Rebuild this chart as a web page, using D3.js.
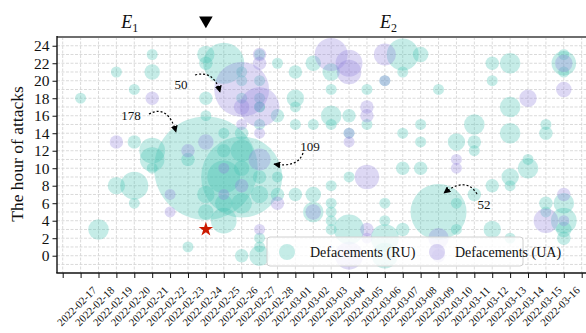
<!DOCTYPE html>
<html>
<head>
<meta charset="utf-8">
<script src="https://cdn.jsdelivr.net/npm/d3@7"></script>
<style>
  html, body { margin: 0; padding: 0; background: #fff; }
  svg { display: block; font-family: "Liberation Serif", "DejaVu Serif", serif; }
</style>
</head>
<body>
<svg id="chart" width="586" height="333"></svg>
<script>
// ---------------- data ----------------
const dayLabels = ["2022-02-17","2022-02-18","2022-02-19","2022-02-20","2022-02-21","2022-02-22","2022-02-23",
  "2022-02-24","2022-02-25","2022-02-26","2022-02-27","2022-02-28","2022-03-01","2022-03-02","2022-03-03",
  "2022-03-04","2022-03-05","2022-03-06","2022-03-07","2022-03-08","2022-03-09","2022-03-10","2022-03-11",
  "2022-03-12","2022-03-13","2022-03-14","2022-03-15","2022-03-16"];
const hourTicks = [0,2,4,6,8,10,12,14,16,18,20,22,24];

// Defacements (RU): day index (0 = 2022-02-17), hour, count
const ruDay = [0,1,2,2,3,3,3,3,4,4,4,4,4,6,6,7,7,7,7,7,7,7,8,8,8,8,8,8,9,9,9,9,9,9,9,9,9,
  10,10,10,10,10,10,10,10,10,10,11,11,11,11,12,12,12,12,12,13,13,13,13,14,14,14,14,14,14,14,14,14,
  15,15,15,15,16,16,17,17,17,17,17,18,18,18,18,18,19,19,19,19,20,20,21,21,21,22,22,22,22,
  23,23,23,23,24,24,24,24,24,24,25,25,26,26,26,26,27,27,27,27,27,27,27,10];
const ruHour = [18,3,21,8,19,13,8,6,23,21,12,11,10,11,1,23,22,18,16,10,7,5,22,14,12,9,6,4,21,20,18,14,12,10,9,6,0,
  20,18,15,9,7,2,1,0,23,17,22,16,9,7,21,18,17,15,7,22,15,7,5,21,19,16,15,8,6,5,4,3,
  16,9,3,14,19,15,6,4,2,0,20,23,21,14,10,3,23,15,13,10,19,5,13,6,3,15,13,12,7,
  22,20,8,3,22,17,14,9,8,2,11,10,15,14,6,5,23,22,21,6,4,3,2,17];
const ruCount = [2,7,2,5,2,3,13,2,2,4,11,10,2,3,2,5,3,3,2,178,5,4,28,2,3,18,5,11,2,2,2,3,8,4,109,7,3,
  2,2,2,3,5,2,2,7,2,2,2,3,2,3,3,5,2,2,3,4,2,4,7,5,2,7,2,2,2,2,2,2,
  3,2,15,2,2,2,2,2,13,11,2,17,2,2,3,3,4,2,2,3,2,52,5,2,2,7,3,2,3,
  3,2,3,5,7,7,7,5,2,2,2,7,2,3,3,2,2,10,2,7,11,4,3,2];

// Defacements (UA)
const uaDay = [2,4,5,5,6,7,8,8,9,9,9,9,10,10,10,10,10,10,11,13,14,15,15,15,15,15,16,16,16,16,16,17,17,20,20,21,21,25,26,27,27,27,27];
const uaHour = [13,18,7,5,12,13,10,7,19,17,15,8,23,22,17,14,11,3,6,5,23,22,21,14,13,0,17,16,9,3,2,23,20,2,0,11,10,18,4,22,19,7,4];
const uaCount = [3,3,2,2,3,4,2,2,50,4,2,3,3,3,26,2,8,2,3,4,18,12,10,2,2,13,3,3,10,3,2,8,2,7,3,2,2,5,10,5,4,3,2];

// event markers
const eventLabels = ["E", "E"];
const eventSubs = ["1", "2"];
const eventDays = [2.75, 17.2];
const invasionDay = 7;
const starDay = 7, starHour = 3;

// annotations (count labels of the largest bubbles)
const annotTexts = ["178", "50", "109", "52"];

// ---------------- layout ----------------
const svg = d3.select("#chart");
const plotLeft = 57, plotTop = 37, plotBottom = 273, plotRight = 586;
const day0 = Date.UTC(2022, 1, 17);
const dayMs = 86400000;
const toDate = d => new Date(day0 + d * dayMs);

const x = d3.scaleUtc()
  .domain([toDate(-1), toDate(28)])
  .range([62.7, 581.7]);
const y = d3.scaleLinear().domain([-2, 25]).range([273.2, 37]);
const r = d3.scaleSqrt().domain([0, 178]).range([0, 51.8]);

const teal = "#3fc1b0", purple = "#8f7ddc";

// clip
svg.append("defs").append("clipPath").attr("id", "plotclip")
  .append("rect").attr("x", plotLeft).attr("y", plotTop)
  .attr("width", plotRight - plotLeft).attr("height", plotBottom - plotTop);

// grid
const grid = svg.append("g");
const allDays = d3.range(-1, 30).map(toDate);
grid.selectAll("line.v").data(allDays).join("line")
  .attr("x1", d => x(d)).attr("x2", d => x(d))
  .attr("y1", plotTop).attr("y2", plotBottom)
  .attr("stroke", "#d6d6d6").attr("stroke-width", 0.9).attr("stroke-dasharray", "3,1.5");
grid.selectAll("line.h").data(d3.range(-1, 25)).join("line")
  .attr("x1", plotLeft).attr("x2", plotRight)
  .attr("y1", d => y(d)).attr("y2", d => y(d))
  .attr("stroke", "#d6d6d6").attr("stroke-width", 0.9).attr("stroke-dasharray", "3,1.5");

// bubbles
const bub = svg.append("g").attr("clip-path", "url(#plotclip)");
const ruData = ruDay.map((d, i) => ({ d, h: ruHour[i], n: ruCount[i] }));
const uaData = uaDay.map((d, i) => ({ d, h: uaHour[i], n: uaCount[i] }));
bub.selectAll("circle.ru").data(ruData).join("circle")
  .attr("cx", p => x(toDate(p.d))).attr("cy", p => y(p.h)).attr("r", p => r(p.n))
  .attr("fill", teal).attr("fill-opacity", 0.3);
bub.selectAll("circle.ua").data(uaData).join("circle")
  .attr("cx", p => x(toDate(p.d))).attr("cy", p => y(p.h)).attr("r", p => r(p.n))
  .attr("fill", purple).attr("fill-opacity", 0.3);

// red star
const star = d3.symbol().type(d3.symbolStar).size(65);
svg.append("path").attr("d", star())
  .attr("transform", `translate(${x(toDate(starDay))},${y(starHour)})`)
  .attr("fill", "#cc1a00");

// axes lines
svg.append("line").attr("x1", plotLeft).attr("x2", plotRight).attr("y1", plotTop).attr("y2", plotTop)
  .attr("stroke", "#6e6e6e").attr("stroke-width", 2);
svg.append("line").attr("x1", plotLeft).attr("x2", plotLeft).attr("y1", plotTop - 1).attr("y2", plotBottom)
  .attr("stroke", "#111").attr("stroke-width", 1.4);
svg.append("line").attr("x1", plotLeft - 0.7).attr("x2", plotRight).attr("y1", plotBottom).attr("y2", plotBottom)
  .attr("stroke", "#111").attr("stroke-width", 1.4);

// y axis
const yAxis = d3.axisLeft(y).tickValues(hourTicks).tickSize(4.5).tickPadding(3);
const gy = svg.append("g").attr("transform", `translate(${plotLeft},0)`).call(yAxis);
gy.select(".domain").remove();
gy.selectAll("line").attr("stroke", "#111").attr("stroke-width", 1);
gy.selectAll("text").attr("font-size", 15.5).attr("font-family", "Liberation Serif").attr("fill", "#111");

// x axis ticks
const xAxis = d3.axisBottom(x).tickValues(allDays.filter(d => d <= toDate(29))).tickSize(5).tickFormat("");
const gx = svg.append("g").attr("transform", `translate(0,${plotBottom})`).call(xAxis);
gx.select(".domain").remove();
gx.selectAll("line").attr("stroke", "#111").attr("stroke-width", 1);

// x labels
const parse = d3.utcParse("%Y-%m-%d");
svg.append("g").selectAll("text").data(dayLabels).join("text")
  .attr("transform", d => `translate(${x(parse(d)) - 4},306) rotate(-45)`)
  .attr("text-anchor", "middle").attr("dominant-baseline", "central")
  .attr("font-size", 10.8).attr("fill", "#111").text(d => d);

// y title
svg.append("text").attr("transform", "translate(23,154) rotate(-90)")
  .attr("text-anchor", "middle").attr("font-size", 17.5).attr("fill", "#111")
  .text("The hour of attacks");

// event labels
eventLabels.forEach((e, i) => {
  const t = svg.append("text").attr("x", x(toDate(eventDays[i]))).attr("y", 28)
    .attr("text-anchor", "middle").attr("font-size", 18).attr("fill", "#111");
  t.append("tspan").attr("font-style", "italic").text(e);
  t.append("tspan").attr("font-size", 12).attr("dy", 4).text(eventSubs[i]);
});

// invasion triangle
const tri = d3.symbol().type(d3.symbolTriangle).size(80);
svg.append("path").attr("d", tri())
  .attr("transform", `translate(${x(toDate(invasionDay))},20.5) rotate(180)`)
  .attr("fill", "#000");

// annotations
const defs = svg.select("defs");
defs.append("marker").attr("id", "ah").attr("viewBox", "0 0 10 10")
  .attr("refX", 9).attr("refY", 5).attr("markerWidth", 7).attr("markerHeight", 7)
  .attr("markerUnits", "userSpaceOnUse").attr("orient", "auto")
  .append("path").attr("d", "M0,0 L10,5 L0,10 z").attr("fill", "#000");

const annotPos = [[131, 115], [181, 84], [310, 146], [484, 204]];
const annotPaths = [
  "M149,114 Q168,104 176,132",
  "M195,75 Q214,70 220,92",
  "M303,153 Q298,168 274,164",
  "M477,194 Q466,176 444,193"
];
annotTexts.forEach((t, i) => {
  svg.append("text").attr("x", annotPos[i][0]).attr("y", annotPos[i][1])
    .attr("text-anchor", "middle").attr("dominant-baseline", "central")
    .attr("font-size", 13).attr("fill", "#111").text(t);
  svg.append("path").attr("d", annotPaths[i]).attr("fill", "none")
    .attr("stroke", "#000").attr("stroke-width", 1.2).attr("stroke-dasharray", "2,2")
    .attr("marker-end", "url(#ah)");
});

// legend
const lg = svg.append("g");
lg.append("rect").attr("x", 267).attr("y", 237).attr("width", 256).attr("height", 29).attr("rx", 3)
  .attr("fill", "#fff").attr("fill-opacity", 0.8).attr("stroke", "#d0d0d0").attr("stroke-width", 1);
const legendItems = [["Defacements (RU)", teal, 287, 310], ["Defacements (UA)", purple, 437, 455]];
legendItems.forEach(([label, col, cx, tx]) => {
  lg.append("circle").attr("cx", cx).attr("cy", 252).attr("r", 8).attr("fill", col).attr("fill-opacity", 0.3);
  lg.append("text").attr("x", tx).attr("y", 252).attr("dominant-baseline", "central")
    .attr("font-size", 14).attr("fill", "#111").text(label);
});
</script>
</body>
</html>
